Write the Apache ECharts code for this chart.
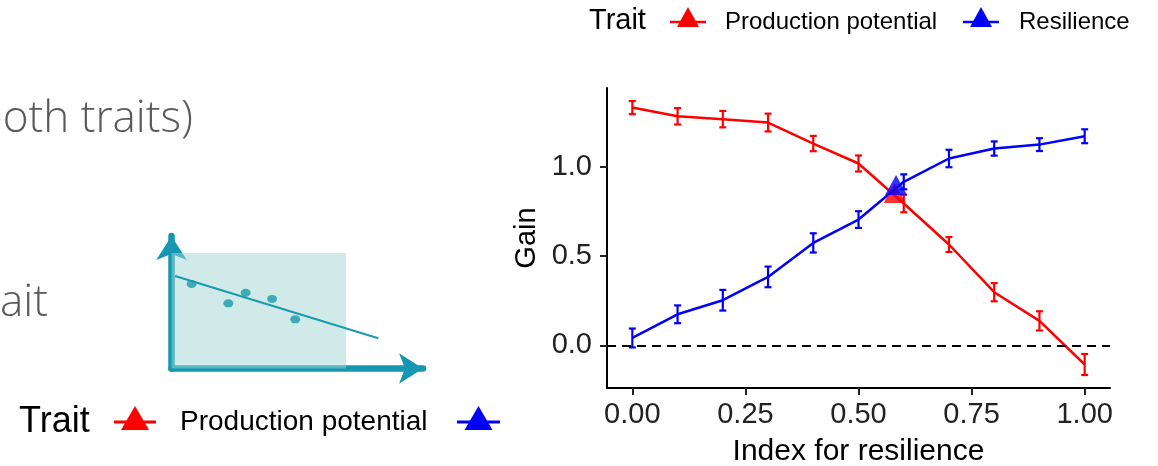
<!DOCTYPE html>
<html>
<head>
<meta charset="utf-8">
<script src="https://cdn.jsdelivr.net/npm/echarts@6/dist/echarts.min.js"></script>
<style>
  html, body { margin: 0; padding: 0; background: #fff; }
  #main { width: 1158px; height: 466px; }
</style>
</head>
<body>
<div id="main"></div>
<script>
var chartDom = document.getElementById('main');
var myChart = echarts.init(chartDom);

// index for resilience (x) and gains per trait
const indexValues = [0, 0.1, 0.2, 0.3, 0.4, 0.5, 0.6, 0.7, 0.8, 0.9, 1.0];
const prodGain = [1.335, 1.286, 1.270, 1.251, 1.133, 1.021, 0.796, 0.566, 0.298, 0.137, -0.108];
const prodErr  = [0.037, 0.046, 0.046, 0.050, 0.043, 0.045, 0.049, 0.042, 0.051, 0.054, 0.059];
const resGain  = [0.041, 0.174, 0.253, 0.384, 0.575, 0.706, 0.918, 1.049, 1.105, 1.127, 1.174];
const resErr   = [0.053, 0.050, 0.058, 0.058, 0.054, 0.047, 0.042, 0.049, 0.040, 0.036, 0.039];
// optimum (triangles)
const prodOpt = [0.580, 0.855];
const resOpt  = [0.583, 0.900];
const xTicks = [0, 0.25, 0.5, 0.75, 1];
const yTicks = [0, 0.5, 1];

// small sketch on the slide (negative correlation)
const sketchDots = [[8.0, 63.8], [22.6, 49.2], [29.5, 57.2], [40.0, 52.5], [49.2, 37.1]];
const sketchTrend = [[1.4, 69.8], [82.2, 22.8]];

const RED = '#ff0000';
const BLUE = '#0000ff';
const FONT = 'Liberation Sans, Arial, sans-serif';

const toPairs = (vals) => indexValues.map((x, i) => [x, vals[i]]);
const toBars = (vals, errs) => indexValues.map((x, i) => [x, vals[i] - errs[i], vals[i] + errs[i]]);

function errorBar(color) {
  return function (params, api) {
    const x = api.value(0);
    const lo = api.coord([x, api.value(1)]);
    const hi = api.coord([x, api.value(2)]);
    const w = 3.5;
    const style = { stroke: color, lineWidth: 2.2 };
    return {
      type: 'group',
      children: [
        { type: 'line', shape: { x1: lo[0], y1: lo[1], x2: hi[0], y2: hi[1] }, style },
        { type: 'line', shape: { x1: lo[0] - w, y1: lo[1], x2: lo[0] + w, y2: lo[1] }, style },
        { type: 'line', shape: { x1: hi[0] - w, y1: hi[1], x2: hi[0] + w, y2: hi[1] }, style }
      ]
    };
  };
}

function legendIcon(x1, x2, yLine, apexY, baseY, halfW, color, lw) {
  const cx = (x1 + x2) / 2;
  return {
    type: 'group',
    children: [
      { type: 'line', shape: { x1: x1, y1: yLine, x2: x2, y2: yLine }, style: { stroke: color, lineWidth: lw } },
      { type: 'polygon', shape: { points: [[cx, apexY], [cx - halfW, baseY], [cx + halfW, baseY]] }, style: { fill: color } }
    ]
  };
}

function txt(x, y, text, size, color, family, align, weight) {
  return {
    type: 'text', x: x, y: y,
    style: {
      text: text, fill: color, fontSize: size, fontFamily: family,
      fontWeight: weight || 'normal',
      align: align || 'left', verticalAlign: 'middle',
      textAlign: align || 'left', textVerticalAlign: 'middle'
    }
  };
}

const SLIDE = '#595959';
const SLIDE_FONT = 'Open Sans, Lato, sans-serif';
const TEAL = '#1597b2';

var option = {
  animation: false,
  backgroundColor: '#ffffff',
  grid: [
    { left: 607, top: 88, width: 503, height: 300, outerBoundsMode: 'none', containLabel: false },
    { left: 171.5, top: 236, width: 251.5, height: 132.5, outerBoundsMode: 'none', containLabel: false }
  ],
  xAxis: [
    {
      gridIndex: 0, type: 'value', min: -0.056, max: 1.056,
      name: 'Index for resilience', nameLocation: 'middle', nameGap: 49,
      nameTextStyle: { fontSize: 30, color: '#000', fontFamily: FONT },
      axisLine: { onZero: false, lineStyle: { color: '#000', width: 2 } },
      axisTick: { show: true, length: 7, lineStyle: { color: '#222', width: 2 }, customValues: xTicks },
      axisLabel: { fontSize: 29, color: '#222', fontFamily: FONT, margin: 12, customValues: xTicks,
        formatter: (v) => v.toFixed(2) },
      splitLine: { show: false }
    },
    {
      gridIndex: 1, type: 'value', min: 0, max: 100,
      axisLine: { show: true, onZero: false, symbol: ['none', 'arrow'], symbolSize: [23, 24],
        lineStyle: { color: TEAL, width: 6.5 } },
      axisTick: { show: false }, axisLabel: { show: false }, splitLine: { show: false }
    }
  ],
  yAxis: [
    {
      gridIndex: 0, type: 'value', min: -0.24, max: 1.445,
      name: 'Gain', nameLocation: 'middle', nameGap: 66, nameRotate: 90,
      nameTextStyle: { fontSize: 29, color: '#000', fontFamily: FONT },
      axisLine: { show: true, onZero: false, lineStyle: { color: '#000', width: 2 } },
      axisTick: { show: true, length: 7, lineStyle: { color: '#222', width: 2 }, customValues: yTicks },
      axisLabel: { fontSize: 29, color: '#222', fontFamily: FONT, margin: 15, customValues: yTicks,
        formatter: (v) => v.toFixed(1) },
      splitLine: { show: false }
    },
    {
      gridIndex: 1, type: 'value', min: 0, max: 100,
      axisLine: { show: true, onZero: false, symbol: ['none', 'arrow'], symbolSize: [23, 24],
        lineStyle: { color: TEAL, width: 6.5 } },
      axisTick: { show: false }, axisLabel: { show: false }, splitLine: { show: false }
    }
  ],
  series: [
    {
      name: 'Production potential', type: 'line', xAxisIndex: 0, yAxisIndex: 0,
      data: toPairs(prodGain), showSymbol: false, z: 2,
      lineStyle: { color: RED, width: 2.5 },
      markLine: {
        silent: true, symbol: 'none', label: { show: false },
        lineStyle: { color: '#000', width: 2, type: [9, 6] },
        data: [{ yAxis: 0 }]
      }
    },
    {
      name: 'Production potential bars', type: 'custom', xAxisIndex: 0, yAxisIndex: 0,
      data: toBars(prodGain, prodErr), encode: { x: 0, y: [1, 2] },
      renderItem: errorBar(RED), z: 2
    },
    {
      name: 'Resilience', type: 'line', xAxisIndex: 0, yAxisIndex: 0,
      data: toPairs(resGain), showSymbol: false, z: 3,
      lineStyle: { color: BLUE, width: 2.5 }
    },
    {
      name: 'Resilience bars', type: 'custom', xAxisIndex: 0, yAxisIndex: 0,
      data: toBars(resGain, resErr), encode: { x: 0, y: [1, 2] },
      renderItem: errorBar(BLUE), z: 3
    },
    {
      name: 'Production potential opt', type: 'scatter', xAxisIndex: 0, yAxisIndex: 0,
      data: [prodOpt], symbol: 'triangle', symbolSize: [22, 20],
      itemStyle: { color: RED }, z: 4
    },
    {
      name: 'Resilience opt', type: 'scatter', xAxisIndex: 0, yAxisIndex: 0,
      data: [resOpt], symbol: 'triangle', symbolSize: [22, 20],
      itemStyle: { color: BLUE }, z: 5
    },
    // slide sketch
    {
      type: 'line', xAxisIndex: 1, yAxisIndex: 1, data: sketchTrend, showSymbol: false,
      lineStyle: { color: '#1a9ab0', width: 2 }, z: 2,
      markArea: {
        silent: true,
        itemStyle: { color: 'rgba(160,214,211,0.5)' },
        data: [[{ xAxis: 0, yAxis: 0 }, { xAxis: 69.4, yAxis: 87.2 }]]
      }
    },
    {
      type: 'scatter', xAxisIndex: 1, yAxisIndex: 1, data: sketchDots,
      symbol: 'circle', symbolSize: [10, 8], itemStyle: { color: '#1a9aab' }, z: 3
    }
  ],
  graphic: [
    // slide text, cut at the left edge
    txt(193, 119, 'both traits)', 44, SLIDE, SLIDE_FONT, 'right', 300),
    txt(48, 303, 'trait', 44, SLIDE, SLIDE_FONT, 'right', 300),
    // top legend
    txt(589, 21, 'Trait', 29, '#000', FONT),
    legendIcon(670, 706, 22, 7, 27, 11, RED, 2.5),
    txt(725, 22, 'Production potential', 24, '#000', FONT),
    legendIcon(963, 999, 22, 7, 27, 11, BLUE, 2.5),
    txt(1019, 22, 'Resilience', 24, '#000', FONT),
    // legend of the slide's earlier chart
    txt(19, 422, 'Trait', 36, '#000', FONT),
    legendIcon(114, 156, 422, 406, 430, 14, RED, 3),
    txt(180, 422, 'Production potential', 28, '#000', FONT),
    legendIcon(457, 500, 422, 406, 430, 14, BLUE, 3)
  ]
};

option && myChart.setOption(option);
</script>
</body>
</html>
